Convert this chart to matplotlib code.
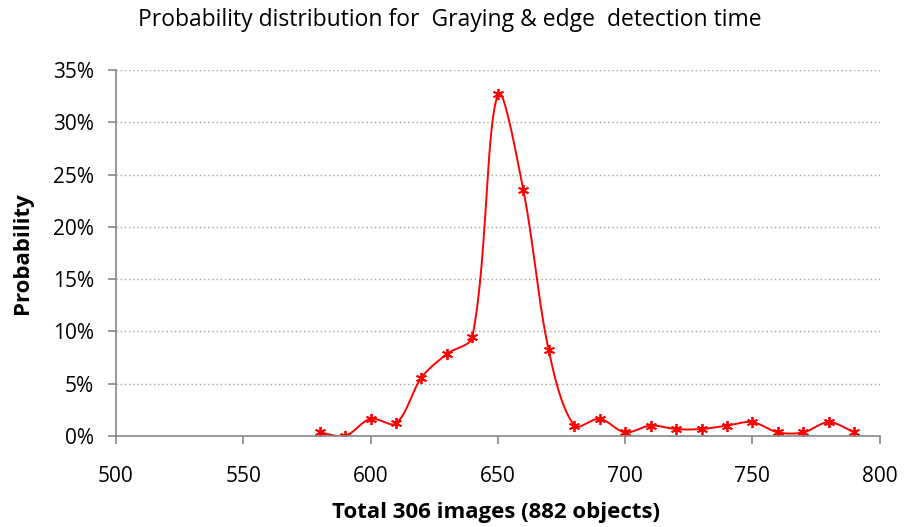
import numpy as np
from matplotlib import pyplot as plt
from matplotlib.ticker import FuncFormatter, MultipleLocator

plt.rcParams['font.family'] = ['Open Sans', 'DejaVu Sans']

detection_time = [580, 590, 600, 610, 620, 630, 640, 650, 660, 670, 680,
                  690, 700, 710, 720, 730, 740, 750, 760, 770, 780, 790]
probability = [0.33, 0.0, 1.63, 1.2, 5.56, 7.84, 9.48, 32.68, 23.53, 8.17, 0.98,
               1.63, 0.33, 0.98, 0.65, 0.65, 0.98, 1.31, 0.33, 0.33, 1.31, 0.33]


def smooth_curve(xs, ys, sx=2.547, sy=10.46, steps=30):
    # Excel-like smoothed line: Bezier segments, tangents weighted by chord length on screen
    p = np.column_stack([np.asarray(xs) * sx, np.asarray(ys) * sy]).astype(float)
    n = len(p)
    d = np.hypot(*np.diff(p, axis=0).T)
    t = np.linspace(0, 1, steps)[:, None]
    out = []
    for i in range(n - 1):
        p1, p2 = p[i], p[i + 1]
        if i > 0:
            c1 = p1 + (p2 - p[i - 1]) * d[i] / (d[i - 1] + d[i]) / 3
        else:
            c1 = p1 + (p2 - p1) / 3
        if i < n - 2:
            c2 = p2 - (p[i + 2] - p1) * d[i] / (d[i] + d[i + 1]) / 3
        else:
            c2 = p2 - (p2 - p1) / 3
        seg = (1 - t) ** 3 * p1 + 3 * (1 - t) ** 2 * t * c1 + 3 * (1 - t) * t ** 2 * c2 + t ** 3 * p2
        out.append(seg if i == 0 else seg[1:])
    out = np.vstack(out)
    return out[:, 0] / sx, out[:, 1] / sy


fig = plt.figure(figsize=(9.06, 5.27), dpi=100)
ax = fig.add_axes([0.128, 0.173, 0.843, 0.694])

cx, cy = smooth_curve(detection_time, probability)
ax.plot(cx, cy, color='#FF0000', linewidth=1.4)
ax.plot(detection_time, probability, linestyle='none', marker=(6, 2, 0),
        markersize=8, markeredgewidth=1.3, color='#FF0000')

ax.set_xlim(500, 800)
ax.set_ylim(0, 35)
ax.xaxis.set_major_locator(MultipleLocator(50))
ax.yaxis.set_major_locator(MultipleLocator(5))
ax.yaxis.set_major_formatter(FuncFormatter(lambda v, pos: f'{v:.0f}%'))

ax.grid(axis='y', linestyle=(0, (1, 2)), color='#A0A0A0', linewidth=1)
ax.set_axisbelow(True)
for side in ['top', 'right']:
    ax.spines[side].set_visible(False)
for side in ['left', 'bottom']:
    ax.spines[side].set_color('#888888')
    ax.spines[side].set_linewidth(1.2)
ax.tick_params(axis='both', direction='out', length=6, color='#888888', width=1.2,
               labelsize=15, labelcolor='black')
ax.tick_params(axis='x', pad=16)
ax.tick_params(axis='y', pad=10)

fig.text(0.548, 0.027, 'Total 306 images (882 objects)', ha='center', va='center',
         fontsize=16, fontweight='bold')
fig.text(0.025, 0.52, 'Probability', ha='center', va='center', rotation=90,
         fontsize=16, fontweight='bold')
fig.text(0.497, 0.962, 'Probability distribution for  Graying & edge  detection time',
         ha='center', va='center', fontsize=16.5)

plt.savefig('out.png', dpi=100)
